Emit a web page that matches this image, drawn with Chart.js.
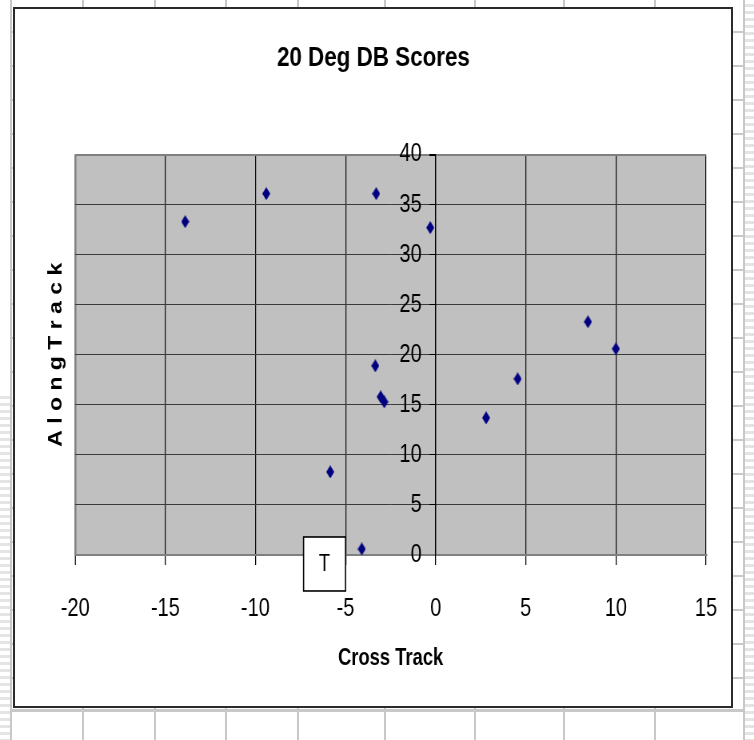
<!DOCTYPE html>
<html>
<head>
<meta charset="utf-8">
<title>20 Deg DB Scores</title>
<script src="https://cdn.jsdelivr.net/npm/chart.js@4.4.1/dist/chart.umd.min.js"></script>
<style>
  html, body { margin: 0; padding: 0; background: #fff; }
  body { width: 754px; height: 740px; position: relative; overflow: hidden; }
  .sheet { position: absolute; background: #c8c8c8; }
  .faint { position: absolute; background: repeating-linear-gradient(#fff 0 4px, #e4e4e4 4px 7px); }
  #frame { position: absolute; left: 13px; top: 7px; width: 716px; height: 697px; border: 2px solid #2b2b2b; background: #fff; }
  /* le canvas est plus large que sa boite : le texte sort "étroit" comme l'Arial Narrow d'Excel */
  #graph { position: absolute; left: 0; top: 0; width: 754px; height: 740px; }
</style>
</head>
<body>
<div id="frame"></div>
<canvas id="graph" width="943" height="740" style="width:754px;height:740px"></canvas>
<script>
// données
const crossTrack = [-13.9, -9.4, -3.3, -0.3, -3.35, -3.05, -2.85, -5.85, -4.1, 2.8, 4.55, 8.45, 10.0];
const alongTrack = [33.3, 36.1, 36.1, 32.7, 18.9, 15.8, 15.3, 8.3, 0.6, 13.7, 17.6, 23.3, 20.6];
const xTicks = [-20, -15, -10, -5, 0, 5, 10, 15];
const yTicks = [0, 5, 10, 15, 20, 25, 30, 35, 40];

const sans = "'Liberation Sans', Arial, sans-serif";

// fond "feuille excel" derrière le graphe
const frame = document.getElementById('frame');
let addDiv = (cls, l, t, w, h) => {
    const d = document.createElement('div');
    d.className = cls;
    d.style.left = l + 'px'; d.style.top = t + 'px';
    d.style.width = w + 'px'; d.style.height = h + 'px';
    document.body.insertBefore(d, frame);
}
[82, 154, 225, 297, 384, 474, 563, 654].forEach(x => addDiv('sheet', x, 0, 2, 740));
for (let y = 31; y < 710; y += 34) addDiv('sheet', 10, y, 734, 2);
addDiv('sheet', 10, 0, 2, 740);
addDiv('sheet', 743, 0, 2, 740);
addDiv('sheet', 10, 709, 735, 3);
addDiv('faint', 745, 0, 9, 740);
addDiv('faint', 0, 392, 10, 348);

// losange bleu marine (marqueur excel)
const diamond = document.createElement('canvas');
diamond.width = 10;
diamond.height = 13;
const dc = diamond.getContext('2d');
dc.fillStyle = '#000080';
dc.beginPath();
dc.moveTo(5, 0); dc.lineTo(10, 6.5); dc.lineTo(5, 13); dc.lineTo(0, 6.5);
dc.closePath();
dc.fill();

const plotBg = {
    id: 'plotBg',
    beforeDraw(chart) {
        const {ctx, chartArea: a} = chart;
        ctx.save();
        ctx.fillStyle = '#c0c0c0';
        ctx.fillRect(a.left, a.top, a.width, a.height);
        ctx.restore();
    }
}

// petite zone de texte "T" posée sur l'axe
const tBox = {
    id: 'tBox',
    afterDraw(chart) {
        const {ctx, scales} = chart;
        const right = scales.x.getPixelForValue(-5);
        const top = scales.y.getPixelForValue(1.8);
        const w = 52.5, h = 54;
        ctx.save();
        ctx.fillStyle = '#fff';
        ctx.fillRect(right - w, top, w, h);
        ctx.strokeStyle = '#000';
        ctx.lineWidth = 1.6;
        ctx.strokeRect(right - w, top, w, h);
        ctx.fillStyle = '#000';
        ctx.font = '23px ' + sans;
        ctx.textAlign = 'center';
        ctx.textBaseline = 'middle';
        ctx.fillText('T', right - w / 2, top + h / 2 + 1);
        ctx.restore();
    }
}

const points = crossTrack.map((x, i) => ({x: x, y: alongTrack[i]}));

const config = {
    type: 'scatter',
    data: {
        datasets: [{
            label: '20 Deg DB',
            data: points,
            pointStyle: diamond,
            pointRadius: 6,
            backgroundColor: '#000080',
            borderColor: '#000080'
        }]
    },
    options: {
        responsive: false,
        animation: false,
        devicePixelRatio: 1,
        layout: {padding: {left: 0, right: 9, top: 0, bottom: 0}},
        plugins: {
            legend: {display: false},
            tooltip: {enabled: false},
            title: {
                display: true,
                text: '20 Deg DB Scores',
                color: '#000',
                font: {family: sans, size: 28, weight: 'bold'},
                padding: {top: 41, bottom: 80}
            }
        },
        scales: {
            x: {
                type: 'linear',
                position: 'bottom',
                min: xTicks[0],
                max: xTicks[xTicks.length - 1],
                ticks: {stepSize: 5, color: '#000', font: {family: sans, size: 25}, padding: 29, maxRotation: 0},
                grid: {
                    color: c => (c.tick && c.tick.value === xTicks[0]) ? '#808080' : '#111',
                    lineWidth: c => (c.tick && c.tick.value === xTicks[0]) ? 2.5 : 1.25,
                    tickLength: 10,
                    tickColor: '#000',
                    tickWidth: 1.25
                },
                border: {color: '#808080', width: 2},
                title: {
                    display: true,
                    text: 'Cross Track',
                    color: '#000',
                    font: {family: sans, size: 23, weight: 'bold'},
                    padding: {top: 0, bottom: 68}
                },
                afterFit: s => { s.height = 185; }
            },
            y: {
                type: 'linear',
                position: {x: 0},
                min: yTicks[0],
                max: yTicks[yTicks.length - 1],
                ticks: {
                    stepSize: 5,
                    color: '#000',
                    font: {family: sans, size: 25},
                    // décale le texte à gauche du petit trait de graduation
                    callback: v => v + '\u2002\u2009'
                },
                grid: {
                    color: c => (c.tick && c.tick.value === yTicks[yTicks.length - 1]) ? '#808080' : '#3a3a3a',
                    lineWidth: c => (c.tick && c.tick.value === yTicks[yTicks.length - 1]) ? 2 : 1,
                    tickLength: 7,
                    tickColor: '#000'
                },
                border: {color: '#000', width: 1.25}
            },
            yt: {
                type: 'linear',
                position: 'left',
                ticks: {display: false},
                grid: {display: false},
                border: {display: false},
                title: {
                    display: true,
                    text: 'A l o n g T r a c k',
                    color: '#000',
                    font: {family: sans, size: 23, weight: 'bold'},
                    padding: {top: 57, bottom: 0}
                },
                afterFit: s => { s.width = 94; }
            },
            yr: {
                type: 'linear',
                position: 'right',
                ticks: {display: false},
                grid: {display: false},
                border: {display: false},
                afterFit: s => { s.width = 51; }
            }
        }
    },
    plugins: [plotBg, tBox]
}

const graph = new Chart(document.getElementById('graph'), config);
</script>
</body>
</html>
